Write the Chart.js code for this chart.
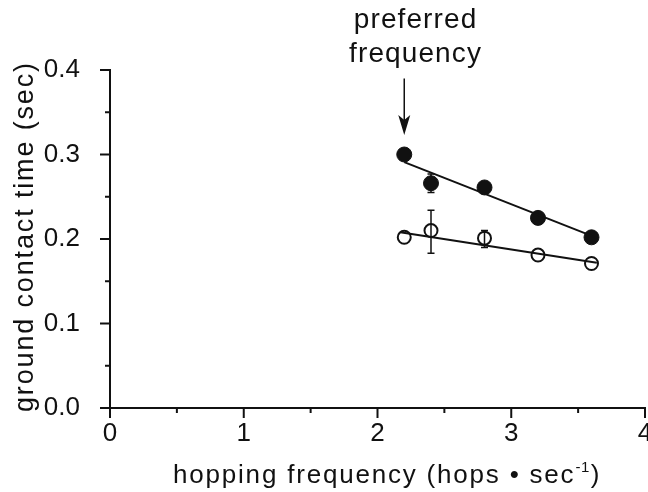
<!DOCTYPE html>
<html>
<head>
<meta charset="utf-8">
<script src="https://cdn.jsdelivr.net/npm/chart.js@4.4.1/dist/chart.umd.min.js"></script>
<style>
  html, body { margin: 0; padding: 0; background: #fff; }
</style>
</head>
<body>
<canvas id="myChart" width="648" height="492"></canvas>
<script>
// data
const freqs = [2.2, 2.4, 2.8, 3.2, 3.6];
const filledTimes = [0.300, 0.266, 0.261, 0.225, 0.202];
const openTimes = [0.202, 0.210, 0.201, 0.181, 0.171];

// error bars (x, low, high)
const errX = [2.4, 2.4, 2.8];
const errLow = [0.255, 0.183, 0.190];
const errHigh = [0.277, 0.234, 0.210];

// regression lines (end points)
const filledFitX = [2.2, 3.63];
const filledFitY = [0.291, 0.202];
const openFitX = [2.17, 3.64];
const openFitY = [0.208, 0.172];

const xTickLabels = ['0', '1', '2', '3', '4'];
const yTickLabels = ['0.0', '0.1', '0.2', '0.3', '0.4'];

// "preferred frequency" arrow
const arrowX = 2.2;
const arrowTop = 0.39;
const arrowTip = 0.323;

const FONT = "'Liberation Sans', Arial, Helvetica, sans-serif";
const INK = '#111';

const toPoints = (xs, ys) => xs.map((x, i) => ({ x: x, y: ys[i] }));

// draws text char by char with extra spacing, left aligned; returns end x
function spacedText(ctx, text, x, y, spacing) {
  let cx = x;
  for (const ch of text) {
    ctx.fillText(ch, cx, y);
    cx += ctx.measureText(ch).width + spacing;
  }
  return cx;
}
function spacedWidth(ctx, text, spacing) {
  let w = 0;
  for (const ch of text) w += ctx.measureText(ch).width + spacing;
  return w - spacing;
}

const extras = {
  id: 'extras',
  beforeDatasetsDraw(chart) {
    const { ctx, scales: { x, y } } = chart;
    ctx.save();
    ctx.strokeStyle = INK;
    ctx.lineWidth = 1.5;
    errX.forEach((v, i) => {
      const px = x.getPixelForValue(v);
      const lo = y.getPixelForValue(errLow[i]);
      const hi = y.getPixelForValue(errHigh[i]);
      ctx.beginPath();
      ctx.moveTo(px, lo); ctx.lineTo(px, hi);
      ctx.moveTo(px - 3.5, lo); ctx.lineTo(px + 3.5, lo);
      ctx.moveTo(px - 3.5, hi); ctx.lineTo(px + 3.5, hi);
      ctx.stroke();
    });
    ctx.restore();
  },
  afterDraw(chart) {
    const { ctx, chartArea, scales: { x, y } } = chart;
    ctx.save();
    ctx.strokeStyle = INK;
    ctx.fillStyle = INK;
    ctx.lineWidth = 2;

    // tick marks, long for labelled ticks, short for the others
    x.ticks.forEach((t, i) => {
      const px = x.getPixelForValue(t.value);
      const len = i % 2 === 0 ? 10 : 5;
      ctx.beginPath();
      ctx.moveTo(px, chartArea.bottom);
      ctx.lineTo(px, chartArea.bottom + len);
      ctx.stroke();
    });
    y.ticks.forEach((t, i) => {
      const py = y.getPixelForValue(t.value);
      const len = i % 2 === 0 ? 10 : 5;
      ctx.beginPath();
      ctx.moveTo(chartArea.left, py);
      ctx.lineTo(chartArea.left - len, py);
      ctx.stroke();
    });

    // arrow
    const ax = x.getPixelForValue(arrowX);
    const aTop = y.getPixelForValue(arrowTop);
    const aTip = y.getPixelForValue(arrowTip);
    ctx.lineWidth = 1.5;
    ctx.beginPath();
    ctx.moveTo(ax, aTop);
    ctx.lineTo(ax, aTip - 12);
    ctx.stroke();
    ctx.beginPath();
    ctx.moveTo(ax, aTip);
    ctx.lineTo(ax - 6, aTip - 20);
    ctx.lineTo(ax, aTip - 15);
    ctx.lineTo(ax + 6, aTip - 20);
    ctx.closePath();
    ctx.fill();

    // annotation text
    ctx.font = '28px ' + FONT;
    ctx.textAlign = 'left';
    ctx.textBaseline = 'alphabetic';
    ['preferred', 'frequency'].forEach((line, i) => {
      const w = spacedWidth(ctx, line, 1.1);
      spacedText(ctx, line, 415 - w / 2, 28 + i * 34, 1.1);
    });

    // x axis title
    ctx.font = '26px ' + FONT;
    let ex = spacedText(ctx, 'hopping frequency (hops \u2022 sec', 173, 483, 1.8);
    ctx.font = '15px ' + FONT;
    ex = spacedText(ctx, '-1', ex, 472, 0.5);
    ctx.font = '26px ' + FONT;
    spacedText(ctx, ')', ex + 1, 483, 0);

    // y axis title
    ctx.translate(33, 412);
    ctx.rotate(-Math.PI / 2);
    ctx.font = '27px ' + FONT;
    spacedText(ctx, 'ground contact time (sec)', 0, 0, 1.85);
    ctx.restore();
  }
};

new Chart(document.getElementById('myChart').getContext('2d'), {
  type: 'scatter',
  data: {
    datasets: [
      {
        label: 'fit filled',
        data: toPoints(filledFitX, filledFitY),
        showLine: true,
        borderColor: INK,
        borderWidth: 2,
        pointRadius: 0
      },
      {
        label: 'fit open',
        data: toPoints(openFitX, openFitY),
        showLine: true,
        borderColor: INK,
        borderWidth: 2,
        pointRadius: 0
      },
      {
        label: 'filled',
        data: toPoints(freqs, filledTimes),
        pointRadius: 7.5,
        pointBackgroundColor: INK,
        pointBorderColor: INK,
        pointBorderWidth: 1
      },
      {
        label: 'open',
        data: toPoints(freqs, openTimes),
        pointRadius: 6.5,
        pointBackgroundColor: 'rgba(0,0,0,0)',
        pointBorderColor: INK,
        pointBorderWidth: 2
      }
    ]
  },
  options: {
    responsive: false,
    animation: false,
    layout: { autoPadding: false, padding: { top: 70, right: 3, left: 0, bottom: 0 } },
    plugins: {
      legend: { display: false },
      tooltip: { enabled: false }
    },
    scales: {
      x: {
        type: 'linear',
        min: 0,
        max: 4,
        grid: { display: false },
        border: { display: true, color: INK, width: 2 },
        ticks: {
          stepSize: 0.5,
          autoSkip: false,
          maxRotation: 0,
          padding: 2,
          color: INK,
          font: { family: FONT, size: 26 },
          callback: (v, i) => (i % 2 === 0 ? xTickLabels[i / 2] : '')
        },
        afterFit: (s) => { s.height = 84; s.paddingLeft = 0; s.paddingRight = 0; }
      },
      y: {
        type: 'linear',
        min: 0,
        max: 0.4,
        grid: { display: false },
        border: { display: true, color: INK, width: 2 },
        ticks: {
          stepSize: 0.05,
          autoSkip: false,
          padding: 22,
          color: INK,
          font: { family: FONT, size: 26 },
          callback: (v, i) => (i % 2 === 0 ? yTickLabels[i / 2] : '')
        },
        afterFit: (s) => { s.width = 110; s.paddingTop = 0; s.paddingBottom = 0; }
      }
    }
  },
  plugins: [extras]
});
</script>
</body>
</html>
